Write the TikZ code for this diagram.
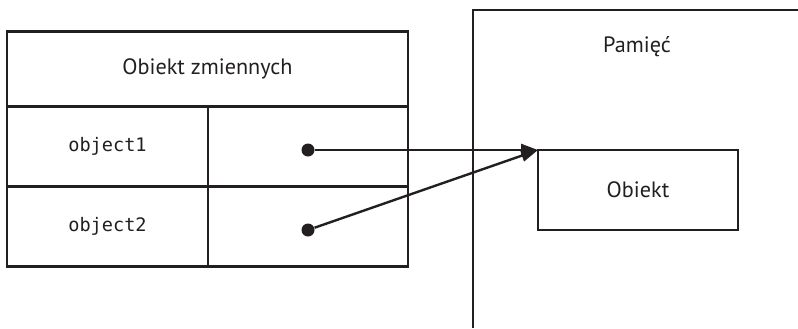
\documentclass[tikz,border=0pt]{standalone}
\usepackage{fontspec}
\setsansfont{PT Sans}
\setmonofont{DejaVu Sans Mono}
\usepackage{tikz}
\usetikzlibrary{arrows.meta,positioning}
\definecolor{ink}{HTML}{231F20}

\begin{document}
\begin{tikzpicture} %
		[
			x=0.5pt, y=0.5pt,
			font={\sffamily\fontsize{11.1}{13}\selectfont},
			cell/.style={
				draw=ink,
				text=ink,
				rectangle,
				line width=1.2pt,
				inner sep=0pt,
				outer sep=0pt,
				minimum height=40pt,
			},
			varname/.style={font={\ttfamily\fontsize{9.3}{11}\selectfont}},
			dot/.style={circle, fill=ink, inner sep=0pt, minimum size=6.5pt},
			ptr/.style={draw=ink, line width=1.2pt, -{Triangle[length=8.5pt,width=6pt]}},
			wall/.style={draw=ink, line width=1.2pt},
		]
		\useasboundingbox (0,0) rectangle (798,328);
		% table of variables
		\node[cell, minimum width=200.5pt, minimum height=37.5pt, anchor=north west]
		(head) at (7,296.5) {Obiekt zmiennych};
		\node[cell, minimum width=100.5pt, anchor=north west, varname]
		(name1) at (head.south west) {object1};
		\node[cell, minimum width=100pt, anchor=north west]
		(val1) at (name1.north east) {};
		\node[cell, minimum width=100.5pt, anchor=north west, varname]
		(name2) at (name1.south west) {object2};
		\node[cell, minimum width=100pt, anchor=north west]
		(val2) at (name2.north east) {};
		% memory
		\coordinate (memBL) at (473,0);
		\coordinate (memTR) at (798,318);
		\draw[wall] (memBL) |- (memTR);
		\node[text=ink] (memlabel) at (637,281) {Pamięć};
		\node[cell] [minimum width=100pt] (obj) at (638,138) {Obiekt};
		% references
		\node[dot] (ref1) at (val1.center |- obj.north) {};
		\node[dot] (ref2) at (val2.center |- obj.south) {};
		\draw[ptr] (ref1) -- (obj.north west);
		\draw[ptr] (ref2) -- (obj.north west);
	\end{tikzpicture}
\end{document}
